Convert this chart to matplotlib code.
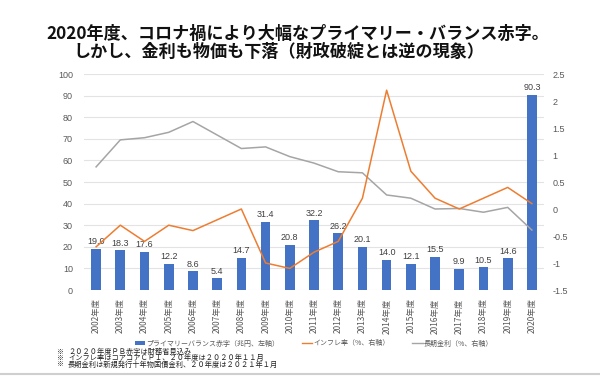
import matplotlib
matplotlib.use("Agg")
import matplotlib.pyplot as plt
from matplotlib.patches import Patch
from matplotlib.lines import Line2D
from matplotlib.ticker import FuncFormatter, MultipleLocator

plt.rcParams['font.family'] = ['Noto Sans CJK JP', 'DejaVu Sans']

years = [f"{y}年度" for y in range(2002, 2021)]
pb_deficit = [19.0, 18.3, 17.6, 12.2, 8.6, 5.4, 14.7, 31.4, 20.8, 32.2,
              26.2, 20.1, 14.0, 12.1, 15.5, 9.9, 10.5, 14.6, 90.3]
inflation = [-0.7, -0.3, -0.6, -0.3, -0.4, -0.2, 0.0, -1.0, -1.1, -0.8,
             -0.6, 0.2, 2.2, 0.7, 0.2, 0.0, 0.2, 0.4, 0.1]
long_rate = [0.78, 1.28, 1.32, 1.42, 1.62, 1.37, 1.12, 1.15, 0.97, 0.85,
             0.69, 0.67, 0.26, 0.20, 0.0, 0.01, -0.06, 0.03, -0.39]

title1 = "2020年度、コロナ禍により大幅なプライマリー・バランス赤字。"
title2 = "しかし、金利も物価も下落（財政破綻とは逆の現象）"
legend_labels = ["プライマリーバランス赤字（兆円、左軸）", "インフレ率（%、右軸）", "長期金利（%、右軸）"]
notes = ["２０２０年度ＰＢ赤字は財務省見込み",
         "インフレ率はコアコアＣＰＩ、２０年度は２０２０年１１月",
         "長期金利は新規発行十年物国債金利、２０年度は２０２１年１月"]

BLUE = "#4472C4"
ORANGE = "#ED7D31"
GREY = "#A5A5A5"
TXT = "#595959"

W, H = 600, 376
fig = plt.figure(figsize=(6.0, 3.76), dpi=100)
fig.patch.set_facecolor("white")

left, right, top, bottom = 84, 544, 74, 290
ax = fig.add_axes([left / W, 1 - bottom / H, (right - left) / W, (bottom - top) / H])
x = list(range(len(years)))
bars = ax.bar(x, pb_deficit, width=0.4, color=BLUE, zorder=2)
ax.bar_label(bars, labels=[f"{v:.1f}" for v in pb_deficit], padding=2,
             fontsize=6.5, color="#404040", family=['Liberation Sans', 'DejaVu Sans'])
ax.set_xlim(-0.5, len(years) - 0.5)
ax.set_ylim(0, 100)
ax.yaxis.set_major_locator(MultipleLocator(10))
ax.grid(axis='y', color="#E3E3E3", linewidth=0.8, zorder=0)
ax.set_axisbelow(True)
for s in ax.spines.values():
    s.set_visible(False)
ax.tick_params(axis='y', length=0, labelsize=6.5, labelcolor=TXT, pad=8)
ax.tick_params(axis='x', length=0, pad=6)
ax.set_xticks(x)
ax.set_xticklabels(years, rotation=90, fontsize=6, color=TXT)
for lab in ax.get_yticklabels():
    lab.set_family(['Liberation Sans', 'DejaVu Sans'])

ax2 = ax.twinx()
ax2.plot(x, long_rate, color=GREY, linewidth=1.1, zorder=3)
ax2.plot(x, inflation, color=ORANGE, linewidth=1.1, zorder=4)
ax2.set_ylim(-1.5, 2.5)
ax2.yaxis.set_major_locator(MultipleLocator(0.5))
ax2.yaxis.set_major_formatter(FuncFormatter(lambda v, p: f"{v:g}"))
for s in ax2.spines.values():
    s.set_visible(False)
ax2.tick_params(axis='y', length=0, labelsize=6.5, labelcolor=TXT, pad=6)
for lab in ax2.get_yticklabels():
    lab.set_family(['Liberation Sans', 'DejaVu Sans'])

# Title
fig.text(46 / W, 1 - 34 / H, title1, fontsize=12.3, fontweight='bold',
         ha='left', va='center', color="#111111")
fig.text(73 / W, 1 - 51.5 / H, title2, fontsize=12.3, fontweight='bold',
         ha='left', va='center', color="#111111")

# Legend
handles = [Patch(facecolor=BLUE, edgecolor='none'),
           Line2D([0], [0], color=ORANGE, linewidth=1.0),
           Line2D([0], [0], color=GREY, linewidth=1.0)]
fig.legend(handles, legend_labels, loc='center', bbox_to_anchor=(314 / W, 1 - 343.5 / H),
           ncol=3, frameon=False, fontsize=5.0, labelcolor=TXT,
           handlelength=1.5, handleheight=0.6, handletextpad=0.2, columnspacing=3.2,
           borderpad=0, borderaxespad=0)

# Footnotes
for i, n in enumerate(notes):
    yy = 1 - (351.5 + 6.5 * i) / H
    fig.text(56 / W, yy, "※", fontsize=5.0, ha='left', va='center', color="#222222")
    fig.text(68 / W, yy, n, fontsize=5.2, ha='left', va='center', color="#222222")

# Bottom border strip
fig.add_artist(Line2D([0, 1], [1 - 374 / H, 1 - 374 / H], transform=fig.transFigure,
                      color="#CFCFCF", linewidth=1.5))

fig.savefig("out.png", dpi=100, facecolor="white")
